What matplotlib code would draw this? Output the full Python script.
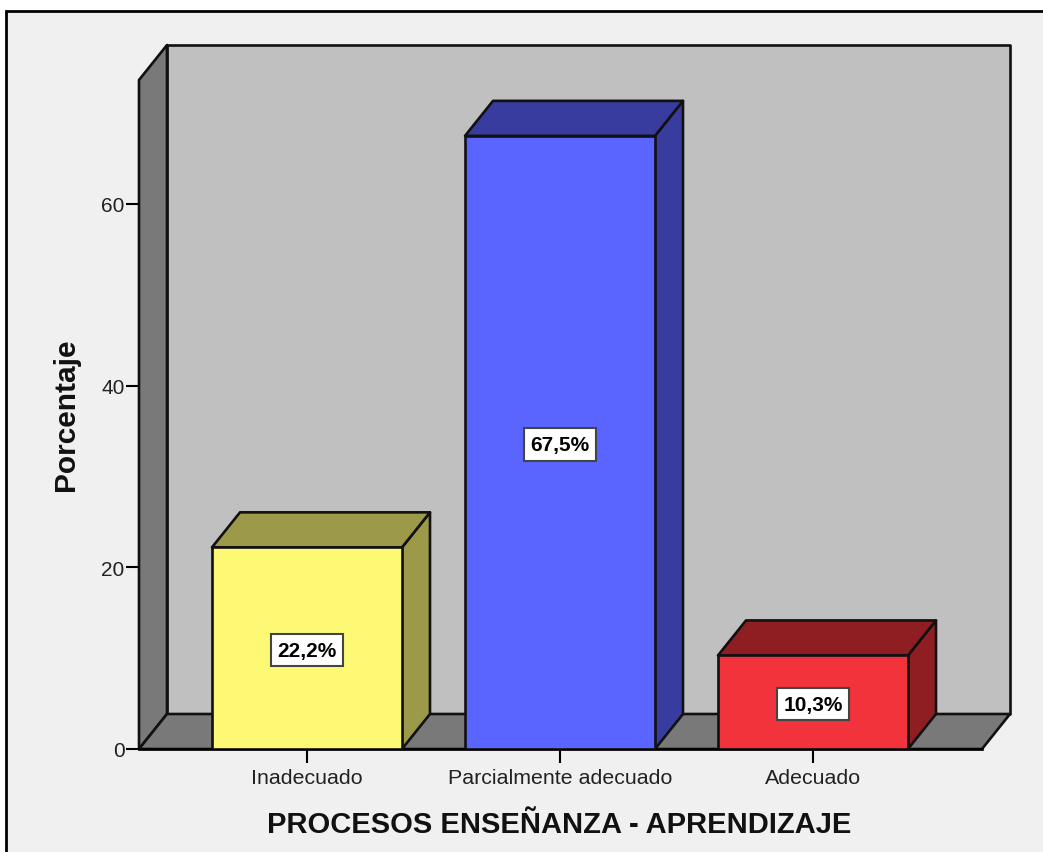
import matplotlib.pyplot as plt
from matplotlib.patches import Polygon, Rectangle

plt.rcParams["font.family"] = ["Liberation Sans", "DejaVu Sans"]

categories = ["Inadecuado", "Parcialmente adecuado", "Adecuado"]
percent = [22.2, 67.5, 10.3]
labels = ["22,2%", "67,5%", "10,3%"]
yticks = [0, 20, 40, 60]
front_colors = ["#fdf975", "#5a64ff", "#f2333b"]
side_colors = ["#9c9a48", "#373c9e", "#8f1e22"]

W, H = 1043, 853
fig = plt.figure(figsize=(W / 100, H / 100), dpi=100, facecolor="white")

# grey panel with the black frame, open on the right and at the bottom
fig.add_artist(Rectangle((6 / W, -0.01), 1.01, 1 - 12 / H + 0.01, transform=fig.transFigure,
                         facecolor="#f0f0f0", edgecolor="black", linewidth=2, zorder=-1))

# axes = front plane of the 3d box
ax = fig.add_axes([139 / W, (H - 750) / H, (982 - 139) / W, (750 - 81) / H])
ax.set_xlim(-0.664, 2.668)
ax.set_ylim(0, 73.65)
ax.patch.set_visible(False)
for s in ["top", "right", "left"]:
    ax.spines[s].set_visible(False)
ax.spines["bottom"].set_linewidth(1.9)
ax.spines["bottom"].set_zorder(1.5)

# depth of the box in data units
dx = 28 / 253
dy = 35 / 9.083
x0, x1 = ax.get_xlim()
y0, y1 = ax.get_ylim()
edge = dict(edgecolor="#111111", linewidth=1.9, joinstyle="round", clip_on=False)

ax.add_patch(Polygon([(x0 + dx, y0 + dy), (x1 + dx, y0 + dy), (x1 + dx, y1 + dy), (x0 + dx, y1 + dy)],
                     facecolor="#c0c0c0", zorder=1, **edge))
ax.add_patch(Polygon([(x0, y0), (x0 + dx, y0 + dy), (x0 + dx, y1 + dy), (x0, y1)],
                     facecolor="#797979", zorder=1.1, **edge))
ax.add_patch(Polygon([(x0, y0), (x1, y0), (x1 + dx, y0 + dy), (x0 + dx, y0 + dy)],
                     facecolor="#797979", zorder=1.1, **edge))

bar_w = 190 / 253
xpos = range(len(categories))
ax.bar(xpos, percent, width=bar_w, color=front_colors, edgecolor="#111111", linewidth=1.9, zorder=3)
for x, v, side, lab in zip(xpos, percent, side_colors, labels):
    l, r = x - bar_w / 2, x + bar_w / 2
    ax.add_patch(Polygon([(r, 0), (r + dx, dy), (r + dx, v + dy), (r, v)], facecolor=side, zorder=2.5, **edge))
    ax.add_patch(Polygon([(l, v), (r, v), (r + dx, v + dy), (l + dx, v + dy)], facecolor=side, zorder=2.5, **edge))
    ax.text(x, v / 2, lab, ha="center", va="center_baseline", fontsize=15, fontweight="bold", zorder=4,
            bbox=dict(boxstyle="square,pad=0.32", facecolor="white", edgecolor="#444444", linewidth=1.5))

ax.set_xticks(list(xpos), categories, fontsize=15.4, color="#222222")
ax.set_yticks(yticks)
ax.tick_params(axis="y", labelsize=15, length=9.5, width=1.5, pad=1, labelcolor="#222222")
ax.tick_params(axis="x", length=10, width=1.5, pad=4)

fig.text(559 / W, (H - 825) / H, "PROCESOS ENSEÑANZA - APRENDIZAJE", ha="center", va="center",
         fontsize=21, fontweight="bold", color="#111111")
fig.text(66 / W, (H - 415) / H, "Porcentaje", ha="center", va="center", rotation=90,
         fontsize=21.5, fontweight="bold", color="#111111")

fig.savefig("out.png", dpi=100, facecolor=fig.get_facecolor())
